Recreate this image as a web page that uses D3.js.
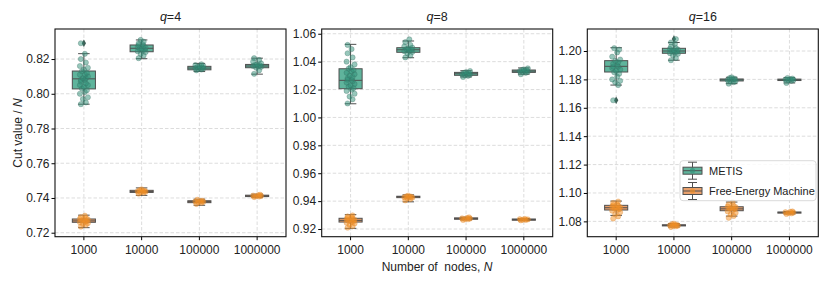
<!DOCTYPE html>
<html>
<head>
<meta charset="utf-8">
<script src="https://cdn.jsdelivr.net/npm/d3@7"></script>
<style>
  body { margin: 0; background: #fff; }
  text { font-family: "Liberation Sans", Arial, sans-serif; fill: #222; }
</style>
</head>
<body>
<div id="chart"></div>
<script>
// Chart values
const categories = ["1000", "10000", "100000", "1000000"];
const qValues = ["4", "8", "16"];
const methods = ["METIS", "Free-Energy Machine"];

const yDomains = [[0.7177, 0.8373], [0.9145, 1.0634], [1.0692, 1.2155]];
const yTicks = [
  [0.72, 0.74, 0.76, 0.78, 0.80, 0.82],
  [0.92, 0.94, 0.96, 0.98, 1.00, 1.02, 1.04, 1.06],
  [1.08, 1.10, 1.12, 1.14, 1.16, 1.18, 1.20]
];

// box stats: [whisker low, q1, median, q3, whisker high]
const metisBoxes = [
  [[0.794, 0.8028, 0.8086, 0.8131, 0.8231], [0.8202, 0.8242, 0.8262, 0.8281, 0.8310],
   [0.8128, 0.8138, 0.8148, 0.8158, 0.8175], [0.8113, 0.8150, 0.8160, 0.8169, 0.8205]],
  [[1.0098, 1.0206, 1.0266, 1.0349, 1.0524], [1.0428, 1.0467, 1.0485, 1.0500, 1.0548],
   [1.0290, 1.0302, 1.0313, 1.0323, 1.0335], [1.0310, 1.0323, 1.0332, 1.0340, 1.0355]],
  [[1.1760, 1.1852, 1.1892, 1.1932, 1.2023], [1.1935, 1.1984, 1.2000, 1.2019, 1.2060],
   [1.1770, 1.1789, 1.1797, 1.1803, 1.1815], [1.1775, 1.1792, 1.1797, 1.1802, 1.1812]]
];
const femBoxes = [
  [[0.7229, 0.7260, 0.7268, 0.7279, 0.7301], [0.7415, 0.7432, 0.7437, 0.7444, 0.7458],
   [0.7358, 0.7373, 0.7379, 0.7384, 0.7393], [0.7402, 0.7408, 0.7412, 0.7416, 0.7422]],
  [[0.9205, 0.9250, 0.9262, 0.9277, 0.9303], [0.9395, 0.9425, 0.9432, 0.9435, 0.9445],
   [0.9265, 0.9270, 0.9275, 0.9280, 0.9285], [0.9260, 0.9263, 0.9268, 0.9272, 0.9275]],
  [[1.0842, 1.0880, 1.0896, 1.0913, 1.0943], [1.0760, 1.0768, 1.0772, 1.0776, 1.0785],
   [1.0837, 1.0875, 1.0888, 1.0903, 1.0936], [1.0852, 1.0858, 1.0863, 1.0866, 1.0870]]
];

// outliers: [panel, category index, value]
const metisOutliers = [[0, 0, 0.8291], [2, 0, 1.1653], [2, 1, 1.2084]];

const metisPoints = [
  [[0.794, 0.795, 0.797, 0.798, 0.800, 0.801, 0.802, 0.803, 0.804, 0.805, 0.805, 0.806, 0.807, 0.808, 0.808, 0.809, 0.809, 0.810, 0.811, 0.811, 0.812, 0.813, 0.814, 0.815, 0.816, 0.818, 0.820, 0.823, 0.8291],
   [0.8205, 0.822, 0.823, 0.824, 0.8245, 0.825, 0.8255, 0.826, 0.826, 0.8265, 0.827, 0.8275, 0.828, 0.8285, 0.829, 0.830, 0.831],
   [0.8135, 0.814, 0.8143, 0.8146, 0.8148, 0.815, 0.8152, 0.8155, 0.8158, 0.816, 0.8165, 0.817],
   [0.8115, 0.8135, 0.815, 0.8155, 0.816, 0.816, 0.8163, 0.8167, 0.817, 0.8175, 0.8185, 0.8195, 0.8205]],
  [[1.010, 1.013, 1.015, 1.017, 1.019, 1.020, 1.021, 1.022, 1.023, 1.024, 1.025, 1.026, 1.027, 1.027, 1.028, 1.029, 1.030, 1.031, 1.032, 1.033, 1.034, 1.035, 1.036, 1.038, 1.040, 1.043, 1.046, 1.049, 1.052],
   [1.043, 1.0445, 1.046, 1.047, 1.0475, 1.048, 1.0485, 1.049, 1.0495, 1.050, 1.051, 1.052, 1.054, 1.056],
   [1.029, 1.0298, 1.0303, 1.0307, 1.031, 1.0313, 1.0316, 1.032, 1.0325, 1.0333],
   [1.031, 1.032, 1.0325, 1.0328, 1.0331, 1.0334, 1.0337, 1.034, 1.0345, 1.0352]],
  [[1.1653, 1.176, 1.178, 1.179, 1.180, 1.182, 1.184, 1.185, 1.186, 1.187, 1.188, 1.189, 1.189, 1.190, 1.191, 1.192, 1.193, 1.194, 1.196, 1.199, 1.201, 1.202],
   [1.1935, 1.195, 1.197, 1.198, 1.1985, 1.199, 1.1995, 1.200, 1.2005, 1.201, 1.2015, 1.202, 1.203, 1.205, 1.206, 1.2084],
   [1.177, 1.178, 1.1785, 1.179, 1.1795, 1.18, 1.1805, 1.181, 1.1815],
   [1.1775, 1.179, 1.1793, 1.1796, 1.1799, 1.1802, 1.1806, 1.181]]
];
const femPoints = [
  [[0.7235, 0.7245, 0.725, 0.7255, 0.726, 0.7263, 0.7266, 0.727, 0.7273, 0.7277, 0.728, 0.7285, 0.729, 0.7298],
   [0.7425, 0.743, 0.7433, 0.7436, 0.7438, 0.744, 0.7442, 0.7445, 0.745],
   [0.7365, 0.7372, 0.7375, 0.7378, 0.738, 0.7382, 0.7385, 0.739],
   [0.7405, 0.7408, 0.741, 0.7412, 0.7414, 0.7416, 0.7419]],
  [[0.921, 0.922, 0.923, 0.924, 0.9245, 0.925, 0.9255, 0.926, 0.9263, 0.9267, 0.927, 0.9275, 0.928, 0.9285, 0.929, 0.9298],
   [0.9405, 0.9415, 0.942, 0.9425, 0.9428, 0.943, 0.9432, 0.9435, 0.944],
   [0.9265, 0.927, 0.9272, 0.9275, 0.9277, 0.928, 0.9284],
   [0.9262, 0.9265, 0.9267, 0.9269, 0.9271, 0.9273]],
  [[1.082, 1.0835, 1.085, 1.0865, 1.0875, 1.088, 1.0885, 1.089, 1.0895, 1.09, 1.0905, 1.091, 1.0915, 1.092, 1.093, 1.094],
   [1.076, 1.0765, 1.0768, 1.077, 1.0772, 1.0774, 1.0776, 1.078, 1.0785],
   [1.0825, 1.0838, 1.085, 1.086, 1.087, 1.0878, 1.0885, 1.089, 1.0895, 1.09, 1.0905, 1.091, 1.092, 1.0935],
   [1.0852, 1.0856, 1.0859, 1.0862, 1.0865, 1.0868, 1.087]]
];

// Layout
const width = 830;
const height = 287;
const panelLeft = [55, 321.7, 587.3];
const panelWidth = 231;
const plotTop = 29;
const plotBottom = 236.7;

const boxFill = ["#5fb49c", "#e9a06c"];
const pointFill = ["#2f8f78", "#f5901f"];
const lineColor = "#4f4f4f";
const jitter = [-3, 2, -1, 4, -4, 1, 3, -2, 0, 4, -4, 2, -3, 1];

const svg = d3.select("#chart")
  .append("svg")
  .attr("width", width)
  .attr("height", height);

qValues.forEach((q, p) => {
  const x = d3.scaleBand()
    .domain(categories)
    .range([panelLeft[p], panelLeft[p] + panelWidth])
    .paddingInner(0)
    .paddingOuter(0);
  const y = d3.scaleLinear().domain(yDomains[p]).range([plotBottom, plotTop]);
  const bw = x.bandwidth();
  const boxW = bw * 0.4;

  const g = svg.append("g");

  // grid
  g.selectAll(".hgrid")
    .data(yTicks[p])
    .enter()
    .append("line")
    .attr("x1", panelLeft[p]).attr("x2", panelLeft[p] + panelWidth)
    .attr("y1", (d) => y(d)).attr("y2", (d) => y(d))
    .attr("stroke", "#d3d3d3").attr("stroke-width", 0.8)
    .attr("stroke-dasharray", "3.5,2");
  g.selectAll(".vgrid")
    .data(categories)
    .enter()
    .append("line")
    .attr("x1", (d) => x(d) + bw / 2).attr("x2", (d) => x(d) + bw / 2)
    .attr("y1", plotTop).attr("y2", plotBottom)
    .attr("stroke", "#d3d3d3").attr("stroke-width", 0.8)
    .attr("stroke-dasharray", "3.5,2");

  // boxes
  [metisBoxes, femBoxes].forEach((boxes, m) => {
    boxes[p].forEach((b, i) => {
      const cx = x(categories[i]) + bw / 2;
      const bg = g.append("g");
      bg.append("line")
        .attr("x1", cx).attr("x2", cx)
        .attr("y1", y(b[0])).attr("y2", y(b[1]))
        .attr("stroke", lineColor).attr("stroke-width", 1);
      bg.append("line")
        .attr("x1", cx).attr("x2", cx)
        .attr("y1", y(b[3])).attr("y2", y(b[4]))
        .attr("stroke", lineColor).attr("stroke-width", 1);
      [b[0], b[4]].forEach((v) => {
        bg.append("line")
          .attr("x1", cx - boxW / 4).attr("x2", cx + boxW / 4)
          .attr("y1", y(v)).attr("y2", y(v))
          .attr("stroke", lineColor).attr("stroke-width", 1);
      });
      bg.append("rect")
        .attr("x", cx - boxW / 2)
        .attr("y", y(b[3]))
        .attr("width", boxW)
        .attr("height", Math.max(y(b[1]) - y(b[3]), 1))
        .attr("fill", boxFill[m])
        .attr("stroke", lineColor).attr("stroke-width", 1);
      bg.append("line")
        .attr("x1", cx - boxW / 2).attr("x2", cx + boxW / 2)
        .attr("y1", y(b[2])).attr("y2", y(b[2]))
        .attr("stroke", lineColor).attr("stroke-width", 1);
    });
  });

  // outliers
  g.selectAll(".flier")
    .data(metisOutliers.filter((d) => d[0] === p))
    .enter()
    .append("path")
    .attr("d", d3.symbol(d3.symbolDiamond, 16))
    .attr("transform", (d) => `translate(${x(categories[d[1]]) + bw / 2},${y(d[2])})`)
    .attr("fill", "#3d5f56");

  // strip points
  [metisPoints, femPoints].forEach((pts, m) => {
    pts[p].forEach((vals, i) => {
      const cx = x(categories[i]) + bw / 2;
      g.selectAll(null)
        .data(vals)
        .enter()
        .append("circle")
        .attr("cx", (d, k) => cx + jitter[k % jitter.length])
        .attr("cy", (d) => y(d))
        .attr("r", 2.6)
        .attr("fill", pointFill[m])
        .attr("fill-opacity", 0.5)
        .attr("stroke", m === 0 ? "#3e6b60" : "#d98a3a")
        .attr("stroke-opacity", 0.5)
        .attr("stroke-width", 0.6);
    });
  });

  // axes
  const yAxis = d3.axisLeft(y).tickValues(yTicks[p]).tickFormat(d3.format(".2f")).tickSize(3.5).tickPadding(2);
  g.append("g")
    .attr("transform", `translate(${panelLeft[p]},0)`)
    .call(yAxis)
    .call((a) => a.select(".domain").remove())
    .call((a) => a.selectAll("text").style("font-size", "12px").attr("fill", "#222"));

  const xAxis = d3.axisBottom(x).tickSize(3.5).tickPadding(5);
  g.append("g")
    .attr("transform", `translate(0,${plotBottom})`)
    .call(xAxis)
    .call((a) => a.select(".domain").remove())
    .call((a) => a.selectAll("text").style("font-size", "12px").attr("fill", "#222"));

  // frame
  g.append("rect")
    .attr("x", panelLeft[p]).attr("y", plotTop)
    .attr("width", panelWidth).attr("height", plotBottom - plotTop)
    .attr("fill", "none").attr("stroke", "#111").attr("stroke-width", 1.1);

  // title
  const t = g.append("text")
    .attr("x", panelLeft[p] + panelWidth / 2)
    .attr("y", 21)
    .attr("text-anchor", "middle")
    .style("font-size", "12.5px");
  t.append("tspan").style("font-style", "italic").text("q");
  t.append("tspan").text("=" + q);
});

// axis labels
const yl = svg.append("text")
  .attr("transform", "translate(21.5,133) rotate(-90)")
  .attr("text-anchor", "middle")
  .style("font-size", "12px");
yl.append("tspan").text("Cut value / ");
yl.append("tspan").style("font-style", "italic").text("N");

const xl = svg.append("text")
  .attr("x", 437)
  .attr("y", 271)
  .attr("text-anchor", "middle")
  .style("font-size", "12px")
  .style("white-space", "pre");
xl.append("tspan").text("Number of  nodes, ");
xl.append("tspan").style("font-style", "italic").text("N");

// legend
const lg = svg.append("g");
lg.append("rect")
  .attr("x", 680).attr("y", 160.7)
  .attr("width", 136).attr("height", 40)
  .attr("rx", 3)
  .attr("fill", "#fff").attr("fill-opacity", 0.85)
  .attr("stroke", "#d0d0d0").attr("stroke-width", 0.8);
methods.forEach((name, m) => {
  const cy = 170.7 + m * 20.3;
  const cx = 692.5;
  lg.append("line").attr("x1", cx).attr("x2", cx).attr("y1", cy - 8.5).attr("y2", cy + 8.5)
    .attr("stroke", lineColor).attr("stroke-width", 1);
  [cy - 8.5, cy + 8.5].forEach((v) => {
    lg.append("line").attr("x1", cx - 4.5).attr("x2", cx + 4.5).attr("y1", v).attr("y2", v)
      .attr("stroke", lineColor).attr("stroke-width", 1);
  });
  lg.append("rect").attr("x", 683).attr("y", cy - 3.5).attr("width", 19).attr("height", 7)
    .attr("fill", boxFill[m]).attr("stroke", lineColor).attr("stroke-width", 1);
  lg.append("line").attr("x1", 683).attr("x2", 702).attr("y1", cy).attr("y2", cy)
    .attr("stroke", lineColor).attr("stroke-width", 1);
  lg.append("circle").attr("cx", cx).attr("cy", cy).attr("r", 2.6)
    .attr("fill", pointFill[m]).attr("fill-opacity", 0.6);
  lg.append("text")
    .attr("x", 709).attr("y", cy + 4)
    .style("font-size", "11px")
    .text(name);
});
</script>
</body>
</html>
